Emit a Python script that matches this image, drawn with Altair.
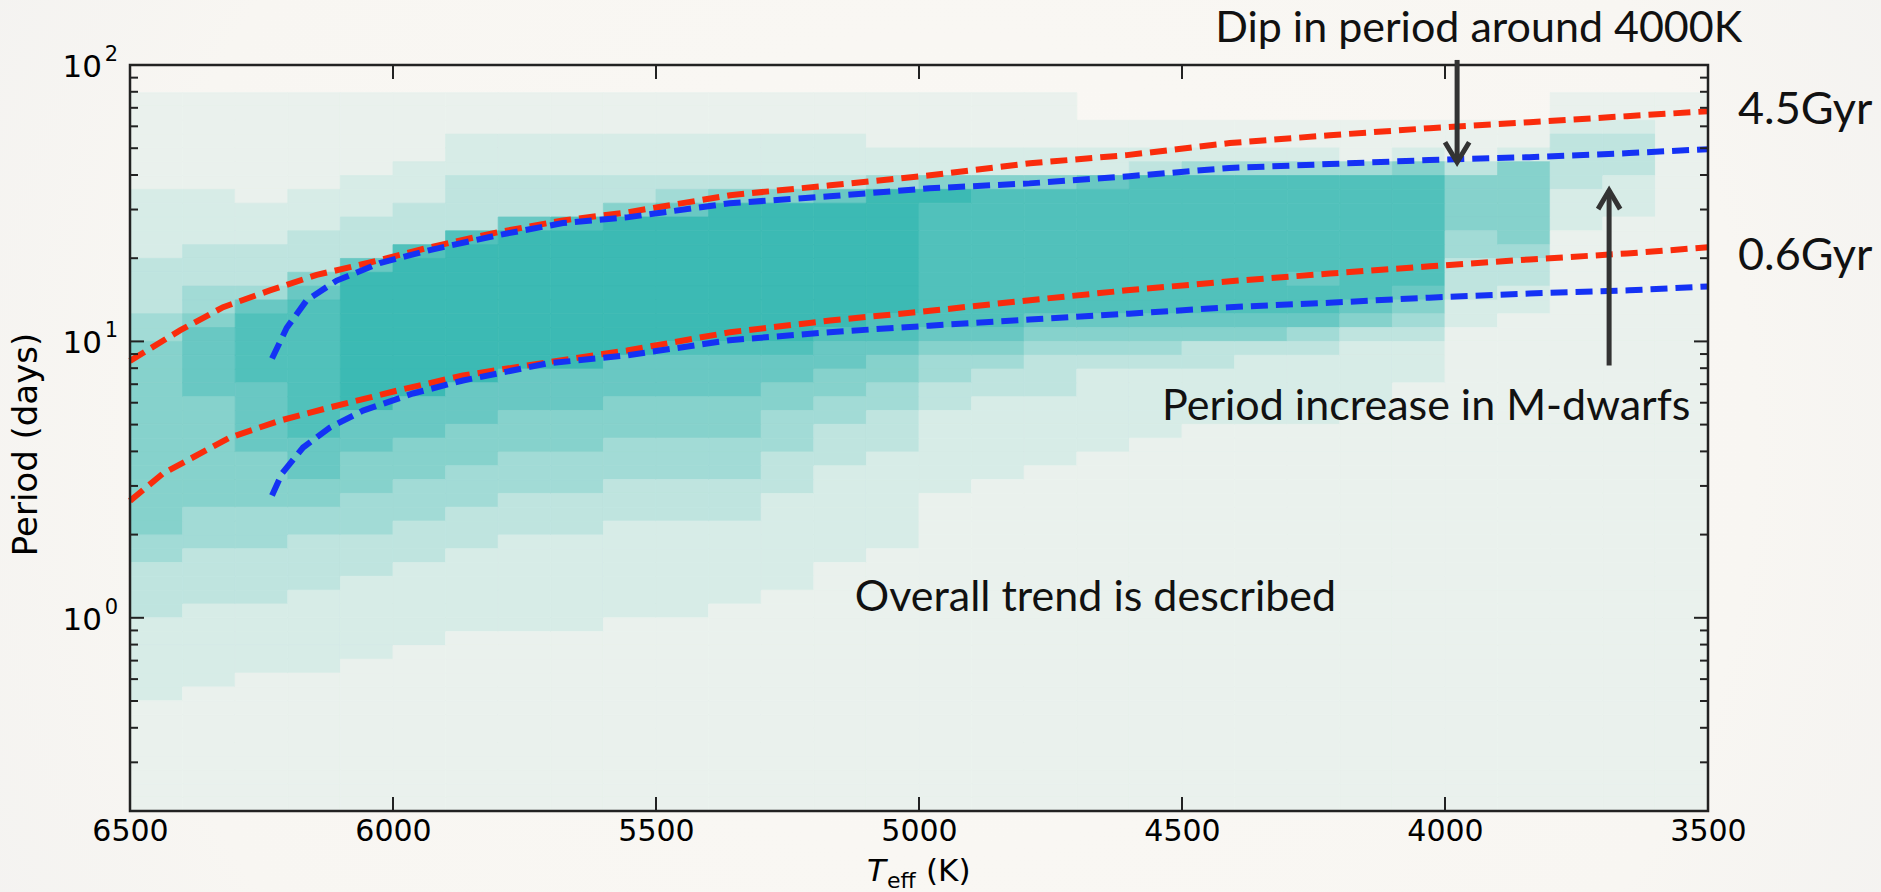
import altair as alt
import pandas as pd

# ---------------------------------------------------------------- data
# Rotation-period density of the stellar sample.  One string per 100 K
# temperature column (6500 K first); one digit per 0.05 dex of log10(P/days),
# listed from log P = 2.0 down to log P = -0.7.  0 = empty ... 8 = packed.
density_cols = [
    "00" "1111111" "22222" "3333" "44" "55555555555555" "4433" "33" "2222" "2211" "111111",
    "00" "1111111" "2222" "333" "44" "5" "66666" "55555555" "444" "3333" "222222" "111111111",
    "00" "11111111" "222" "333" "4" "677777" "66666" "5555" "444" "3333" "22222" "1111111111",
    "00" "1111111" "222" "333" "5" "6" "7777777777" "666" "55" "44" "3333" "222222" "1111111111",
    "00" "111111" "222" "333" "6" "8888888888" "666" "555" "444" "333" "222222" "11111111111",
    "00" "11111" "222" "333" "7" "8888888888" "666" "555" "444" "333" "222222" "111111111111",
    "00" "111" "222" "3333" "7" "8888888888" "666" "555" "444" "333" "222222" "1111111111111",
    "00" "111" "222" "333" "6" "8888888888" "666" "555" "444" "333" "2222222" "1111111111111",
    "00" "111" "222" "333" "7" "8888888888" "666" "555" "444" "333" "2222222" "1111111111111",
    "00" "111" "222" "33" "5" "8888888888" "666" "555" "444" "333" "2222222" "11111111111111",
    "00" "111" "222" "3" "4" "6" "888888888" "7" "666" "555" "444" "333" "2222222" "11111111111111",
    "00" "111" "222" "3" "5" "8888888888" "7" "666" "555" "444" "333" "222222" "111111111111111",
    "00" "111" "222" "3" "5" "8888888888" "7" "66" "55" "444" "333" "2222222" "1111111111111111",
    "00" "111" "222" "3" "6" "888888888" "7" "66" "55" "44" "333" "2222222" "111111111111111111",
    "00" "1111" "22" "4" "8888888887" "7" "6" "55" "44" "333" "2222222" "1111111111111111111",
    "00" "1111" "22" "5" "877777777" "7" "6" "5" "44" "33" "222222" "11111111111111111111111",
    "00" "1111" "22" "5" "777777777" "7" "6" "5" "4" "33" "222222" "111111111111111111111111",
    "00" "1111" "22" "5" "777777777" "6" "5" "4" "3" "33" "22222" "1111111111111111111111111",
    "00" "00" "11" "22" "6" "77777777" "7" "6" "5" "4" "3" "22" "2222" "11111111111111111111111111",
    "00" "00" "11" "2" "3" "7777777777" "6" "5" "4" "3" "22222" "111111111111111111111111111",
    "00" "00" "11" "2" "4" "777777777" "7" "6" "5" "3" "3" "2222" "1111111111111111111111111111",
    "00" "00" "11" "2" "4" "777777777" "7" "6" "5" "3" "2" "2222" "1111111111111111111111111111",
    "00" "00" "11" "2" "4" "7777777" "6" "77" "6" "4" "3" "2" "2222" "1111111111111111111111111111",
    "00" "00" "11" "1" "4" "777777777" "6" "5" "3" "2" "2" "222" "11111111111111111111111111111",
    "00" "00" "11" "2" "5" "77777777" "6" "5" "4" "3" "2" "22" "1111111111111111111111111111111",
    "00" "00" "11" "1" "3" "5555" "44" "33" "3" "2" "2" "11111111111111111111111111111111111",
    "00" "00" "11" "2" "5555" "55" "4" "33" "2" "2" "111111111111111111111111111111111111",
    "00" "11" "2" "333" "3" "22" "2" "1111" "11111111111111111111111111111111111111",
    "00" "11" "2" "333" "2" "22" "1" "111111111111111111111111111111111111111111",
    "00" "1111111111111111111111111111111111111111111111111111",
]
T_START, T_STEP = 6500, 100
LOGP_TOP, LOGP_STEP = 2.0, 0.05

# gyrochrones (Teff in K, period in days)
old_red_T = [6500, 6405, 6323, 6234, 6145, 6044, 5930, 5802, 5677, 5555, 5359,
             5169, 4979, 4789, 4605, 4409, 4219, 4029, 3839, 3654, 3500]
old_red_P = [8.5, 10.96, 13.3, 15.3, 17.4, 19.3, 21.9, 24.8, 27.4, 29.3, 33.8,
             36.7, 39.9, 44.1, 47.2, 52.2, 55.7, 59.1, 62.1, 65.3, 68.0]
old_blue_T = [6230, 6202, 6164, 6107, 6025, 5930, 5802, 5677, 5555, 5360, 5170,
              4980, 4790, 4600, 4410, 4220, 4030, 3840, 3650, 3500]
old_blue_P = [8.67, 11.2, 14.1, 16.6, 19.2, 21.4, 24.2, 26.8, 28.1, 31.6, 33.5,
              35.8, 37.3, 39.6, 42.4, 43.8, 45.3, 46.4, 48.0, 49.6]
young_red_T = [6500, 6437, 6310, 6215, 6120, 5992, 5867, 5707, 5555, 5359, 5169,
               4979, 4789, 4605, 4409, 4219, 4029, 3839, 3654, 3500]
young_red_P = [2.65, 3.33, 4.49, 5.17, 5.77, 6.64, 7.53, 8.4, 9.27, 10.8, 11.9,
               12.9, 14.1, 15.3, 16.5, 17.6, 18.7, 19.8, 20.8, 21.9]
young_blue_T = [6230, 6211, 6171, 6120, 6057, 5962, 5867, 5707, 5555, 5360, 5170,
                4980, 4790, 4600, 4410, 4220, 4030, 3840, 3650, 3500]
young_blue_P = [2.77, 3.33, 4.13, 4.88, 5.62, 6.48, 7.22, 8.32, 8.9, 10.1, 10.8,
                11.4, 12.0, 12.6, 13.3, 13.8, 14.4, 14.9, 15.3, 15.8]

# axis ticks and decade labels (mantissa, exponent)
x_ticks = [6500, 6000, 5500, 5000, 4500, 4000, 3500]
y_major = [1, 10, 100]
y_exponents = ["0", "1", "2"]
y_minor = [0.2, 0.3, 0.4, 0.5, 0.6, 0.7, 0.8, 0.9,
           2, 3, 4, 5, 6, 7, 8, 9, 20, 30, 40, 50, 60, 70, 80, 90]

# annotations (text, Teff, period)
notes = [("Dip in period around 4000K", 4437, 121.2),
         ("Period increase in M-dwarfs", 4538, 5.21),
         ("Overall trend is described", 5122, 1.06)]
age_labels = [("4.5Gyr", 3443, 61.1), ("0.6Gyr", 3443, 18.2)]
# arrows: (Teff, period at tail, period at head)
arrows = [(3977, 104.3, 44.5), (3688, 8.18, 35.2)]

# ---------------------------------------------------------------- layout
W, H = 1578, 746
BG = (248, 246, 242)
TEAL = (44, 181, 175)
ALPHAS = [0.07, 0.16, 0.28, 0.42, 0.56, 0.70, 0.82, 0.92, 0.97]
LEVELS = list(range(1, 10))


def mix(a):
    r, g, b = (round(BG[i] * (1 - a) + TEAL[i] * a) for i in range(3))
    return f"#{r:02x}{g:02x}{b:02x}"


level_colors = [mix(a) for a in ALPHAS]

cells = []
for c, col in enumerate(density_cols):
    assert len(col) == 54, (c, len(col))
    t_hi = T_START - T_STEP * c
    for r, ch in enumerate(col):
        lvl = int(ch)
        if lvl == 0:
            continue
        top = LOGP_TOP - LOGP_STEP * r
        cells.append(dict(T=t_hi, T2=t_hi - T_STEP,
                          P=10 ** (top - LOGP_STEP), P2=10 ** top, level=lvl))
cells = pd.DataFrame(cells)

curves = pd.concat([
    pd.DataFrame(dict(T=old_red_T, P=old_red_P, s="old_red")),
    pd.DataFrame(dict(T=old_blue_T, P=old_blue_P, s="old_blue")),
    pd.DataFrame(dict(T=young_red_T, P=young_red_P, s="young_red")),
    pd.DataFrame(dict(T=young_blue_T, P=young_blue_P, s="young_blue")),
])

FONT = "DejaVu Sans"
INK = "#222222"

xs = alt.Scale(domain=[3500, 6500], reverse=True, nice=False, zero=False)
ys = alt.Scale(type="log", domain=[0.2, 100], nice=False)

x_axis = alt.Axis(values=x_ticks, format="d", title="", grid=False, domain=False,
                  ticks=False, tickSize=0, labelFont=FONT, labelFontSize=30,
                  labelColor="#000000", labelPadding=5, labelFlush=False,
                  labelOverlap=False, zindex=2)
y_axis = alt.Axis(values=y_major, grid=False, domain=False, ticks=False, tickSize=0,
                  labels=False,
                  title="Period (days)", titleFont=FONT, titleFontSize=34,
                  titleFontWeight="normal", titleColor="#000000",
                  titleX=-104, titleY=H / 2 + 6, titleAngle=270,
                  titleAlign="center", titleBaseline="middle", zindex=2)


def X(field):
    return alt.X(f"{field}:Q", scale=xs, axis=x_axis)


def Y(field):
    return alt.Y(f"{field}:Q", scale=ys, axis=y_axis)


backdrop = alt.Chart(alt.Data(values=[{}])).mark_rect(
    fill=alt.RadialGradient(
        gradient="radial",
        stops=[alt.GradientStop(color="#faf8f4", offset=0),
               alt.GradientStop(color="#f8f6f2", offset=0.6),
               alt.GradientStop(color="#efefef", offset=1)],
        x1=0.5, y1=0.5, r1=0, x2=0.5, y2=0.5, r2=0.72)
).encode(x=alt.value(-130), x2=alt.value(W + 173), y=alt.value(-65), y2=alt.value(H + 81))

heat = alt.Chart(cells).mark_rect(strokeWidth=0.8).encode(
    x=X("T"), x2="T2:Q", y=Y("P"), y2="P2:Q",
    fill=alt.Fill("level:O", scale=alt.Scale(domain=LEVELS, range=level_colors), legend=None),
    stroke=alt.Stroke("level:O", scale=alt.Scale(domain=LEVELS, range=level_colors), legend=None),
)

lines = alt.Chart(curves).mark_line(strokeWidth=6, strokeDash=[17, 8], strokeCap="butt").encode(
    x=X("T"), y=Y("P"),
    color=alt.Color("s:N", legend=None, scale=alt.Scale(
        domain=["old_red", "old_blue", "young_red", "young_blue"],
        range=["#fa2c0c", "#1432f5", "#fa2c0c", "#1432f5"])),
    detail="s:N",
)

xt = pd.DataFrame(dict(T=x_ticks))
ymaj = pd.DataFrame(dict(P=y_major, e=y_exponents))
ymin = pd.DataFrame(dict(P=y_minor))
tick_style = dict(color=INK, strokeWidth=2)
ticks = alt.layer(
    alt.Chart(xt).mark_rule(**tick_style).encode(x=X("T"), y=alt.value(H), y2=alt.value(H - 14)),
    alt.Chart(xt).mark_rule(**tick_style).encode(x=X("T"), y=alt.value(0), y2=alt.value(14)),
    alt.Chart(ymaj).mark_rule(**tick_style).encode(y=Y("P"), x=alt.value(0), x2=alt.value(14)),
    alt.Chart(ymaj).mark_rule(**tick_style).encode(y=Y("P"), x=alt.value(W), x2=alt.value(W - 14)),
    alt.Chart(ymin).mark_rule(**tick_style).encode(y=Y("P"), x=alt.value(0), x2=alt.value(8)),
    alt.Chart(ymin).mark_rule(**tick_style).encode(y=Y("P"), x=alt.value(W), x2=alt.value(W - 8)),
)

# decade labels on the period axis: "10" with a raised exponent
ylabels = alt.layer(
    alt.Chart(ymaj).mark_text(
        text="10", font=FONT, fontSize=31, align="right", baseline="middle",
        dy=3, color="#000000").encode(y=Y("P"), x=alt.value(-28)),
    alt.Chart(ymaj).mark_text(
        font=FONT, fontSize=21, align="right", baseline="middle",
        dy=-10, color="#000000").encode(y=Y("P"), x=alt.value(-12), text="e:N"),
)

frame = alt.Chart(alt.Data(values=[{}])).mark_rect(
    filled=False, stroke=INK, strokeWidth=2.5
).encode(x=alt.value(0), x2=alt.value(W), y=alt.value(0), y2=alt.value(H))

# arrows: shafts and chevron heads
ARROW = "#333333"
shaft_df = pd.DataFrame([dict(T=t, P=a, P2=b) for t, a, b in arrows])
head_rows = []
for i, (t, a, b) in enumerate(arrows):
    back = b * (10 ** 0.072) if b < a else b / (10 ** 0.068)
    half = 23 if b < a else 21
    head_rows += [dict(k=i, o=0, T=t + half, P=back),
                  dict(k=i, o=1, T=t, P=b),
                  dict(k=i, o=2, T=t - half, P=back)]
head_df = pd.DataFrame(head_rows)

shafts = alt.Chart(shaft_df).mark_rule(color=ARROW, strokeWidth=5).encode(
    x=X("T"), y=Y("P"), y2="P2:Q")
heads = alt.Chart(head_df).mark_line(color=ARROW, strokeWidth=5, strokeJoin="miter").encode(
    x=X("T"), y=Y("P"), detail="k:N", order="o:Q")

note_df = pd.DataFrame(notes, columns=["text", "T", "P"])
age_df = pd.DataFrame(age_labels, columns=["text", "T", "P"])
note_text = alt.Chart(note_df).mark_text(
    font="Lato", fontSize=43, align="left", baseline="alphabetic", color="#111111"
).encode(x=X("T"), y=Y("P"), text="text:N")
age_text = alt.Chart(age_df).mark_text(
    font="Lato", fontSize=45, align="left", baseline="alphabetic", color="#111111"
).encode(x=X("T"), y=Y("P"), text="text:N")

# x-axis title: italic T with an "eff" subscript, then the unit
X0, XB = 737, 816
xtitle = alt.layer(
    alt.Chart(alt.Data(values=[{}])).mark_text(
        text="T", font=FONT, fontSize=31, fontStyle="italic", align="left",
        baseline="alphabetic", color="#000000").encode(x=alt.value(X0), y=alt.value(XB)),
    alt.Chart(alt.Data(values=[{}])).mark_text(
        text="eff", font=FONT, fontSize=22, align="left",
        baseline="alphabetic", color="#000000").encode(x=alt.value(X0 + 20), y=alt.value(XB + 7)),
    alt.Chart(alt.Data(values=[{}])).mark_text(
        text="(K)", font=FONT, fontSize=31, align="left",
        baseline="alphabetic", color="#000000").encode(x=alt.value(X0 + 59), y=alt.value(XB)),
)

chart = alt.layer(
    backdrop, heat, lines, ticks, ylabels, frame, shafts, heads, note_text, age_text, xtitle
).properties(
    width=W, height=H,
    padding={"left": 130, "top": 65, "right": 173, "bottom": 81},
    autosize=alt.AutoSizeParams(type="none"),
    background="#f8f6f2",
).configure_view(strokeWidth=0)

chart.save("out.html", embed_options={"renderer": "svg", "actions": False})
